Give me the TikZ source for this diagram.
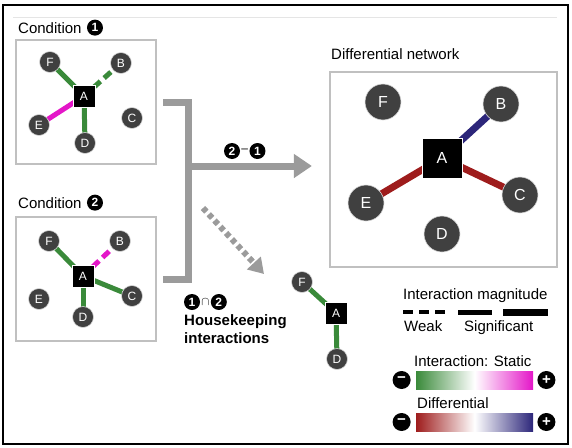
\documentclass[tikz,border=0pt]{standalone}
\usepackage{fontspec}
\setmainfont{Liberation Sans}
\usetikzlibrary{positioning,arrows.meta,backgrounds}

\definecolor{netgreen}{RGB}{58,138,58}
\definecolor{netmagenta}{RGB}{228,22,200}
\definecolor{netred}{RGB}{158,28,28}
\definecolor{netblue}{RGB}{44,38,122}
\definecolor{nodegray}{RGB}{64,64,64}
\definecolor{boxgray}{RGB}{192,192,192}
\definecolor{brgray}{RGB}{155,155,155}

\tikzset{
  gene/.style={circle, fill=nodegray, draw=black!15, line width=0.6pt, text=white,
    inner sep=0pt, minimum size=21pt, font=\fontsize{12}{12}\selectfont},
  biggene/.style={gene, minimum size=36pt, font=\fontsize{16}{16}\selectfont},
  hub/.style={rectangle, fill=black, draw=white, line width=0.6pt, text=white,
    inner sep=0pt, minimum size=22pt, font=\fontsize{12}{12}\selectfont},
  bighub/.style={hub, minimum size=40pt, font=\fontsize{16}{16}\selectfont},
  netbox/.style={draw=boxgray, line width=2.2pt, inner sep=0pt},
  lbl/.style={inner sep=0pt, font=\fontsize{15}{18}\selectfont},
  cnum/.style={circle, fill=black, text=white, inner sep=0pt, minimum size=16pt,
    font=\fontsize{12}{12}\selectfont\bfseries},
  sign/.style={circle, fill=black, text=white, inner sep=0pt, minimum size=18pt,
    font=\fontsize{15}{15}\selectfont\bfseries},
  link/.style={line width=5pt},
  weaklink/.style={link, dash pattern=on 22pt off 5pt on 9pt off 5pt on 40pt},
  difflink/.style={line width=7pt},
  bracket/.style={brgray, line width=7pt},
  flow/.style={brgray, line width=7pt, -{Triangle[length=18pt,width=23pt]}},
  hkflow/.style={brgray, line width=6pt, dash pattern=on 5pt off 3.5pt,
    -{Triangle[length=15pt,width=18pt]}},
  colorbar/.style={minimum width=117pt, minimum height=18pt, inner sep=0pt},
}

\begin{document}
\begin{tikzpicture}[x=1pt,y=-1pt]
    \useasboundingbox (0,0) rectangle (572,447);

    % frame
    \draw[line width=1.5pt] (3,5) rectangle (568,444);
    \draw[black!10] (13,17) -- (557,17);

    % ---------- condition 1

    \node[lbl, anchor=base west] (cond1) at (18,33) {Condition};
    \node[cnum, right=5pt of cond1] (cond1N) {1};
    \node[netbox, minimum width=140pt, minimum height=124pt] (box1) at (86,102) {};

    \node[hub] (A1) at (84,96) {A};
    \node[gene] (F1) at (50,62) {F};
    \node[gene] (B1) at (121,63) {B};
    \node[gene] (C1) at (132,118) {C};
    \node[gene] (D1) at (85,143) {D};
    \node[gene] (E1) at (39,125) {E};

    \begin{scope}[on background layer]
    \draw[link, netgreen] (A1.center) -- (F1.center);
    \draw[weaklink, netgreen] (A1.center) -- (B1.center);
    \draw[link, netgreen] (A1.center) -- (D1.center);
    \draw[link, netmagenta] (A1.center) -- (E1.center);
    \end{scope}

    % ---------- condition 2

    \node[lbl, anchor=base west] (cond2) at (18,208) {Condition};
    \node[cnum, right=5pt of cond2] (cond2N) {2};
    \node[netbox, minimum width=140pt, minimum height=124pt] (box2) at (86,279) {};

    \node[hub] (A2) at (83,276) {A};
    \node[gene] (F2) at (49,241) {F};
    \node[gene] (B2) at (120,241) {B};
    \node[gene] (C2) at (132,296) {C};
    \node[gene] (D2) at (83,317) {D};
    \node[gene] (E2) at (39,299) {E};

    \begin{scope}[on background layer]
    \draw[link, netgreen] (A2.center) -- (F2.center);
    \draw[weaklink, netmagenta] (A2.center) -- (B2.center);
    \draw[link, netgreen] (A2.center) -- (C2.center);
    \draw[link, netgreen] (A2.center) -- (D2.center);
    \end{scope}

    % ---------- differential network

    \node[lbl, anchor=base west] (diffL) at (331,59) {Differential network};
    \node[netbox, minimum width=227pt, minimum height=195pt] (diffbox) at (443.5,169.5) {};

    \node[bighub] (A3) at (442,158) {A};
    \node[biggene] (F3) at (383,102) {F};
    \node[biggene] (B3) at (501,104) {B};
    \node[biggene] (C3) at (520,195) {C};
    \node[biggene] (D3) at (442,234) {D};
    \node[biggene] (E3) at (366,203) {E};

    \begin{scope}[on background layer]
    \draw[difflink, netblue] (A3.center) -- (B3.center);
    \draw[difflink, netred] (A3.center) -- (C3.center);
    \draw[difflink, netred] (A3.center) -- (E3.center);
    \end{scope}

    % ---------- bracket and arrows

    \coordinate (joint) at (188,166);
    \draw[bracket] ([xshift=6pt]box1.east) -- (box1.east -| joint) -- (box2.east -| joint)
        -- ([xshift=6pt]box2.east);
    \draw[flow, shorten >=17pt] (joint) -- (joint -| diffbox.west);
    \node[cnum] (diffN2) at (232,151) {2};
    \node[right=1pt of diffN2, inner sep=0pt, font=\fontsize{12}{12}\selectfont] (minus) {--};
    \node[cnum, right=1pt of minus] (diffN1) {1};

    \coordinate (hkstart) at (203,208);
    \coordinate (hkend) at (264,274);
    \draw[hkflow] (hkstart) -- (hkend);

    % ---------- housekeeping

    \node[cnum] (hkN1) at (192,302) {1};
    \node[right=1pt of hkN1, inner sep=0pt, font=\fontsize{13}{13}\selectfont] (cap) {$\cap$};
    \node[cnum, right=1pt of cap] (hkN2) {2};
    \node[anchor=west, inner sep=0pt, font=\fontsize{15}{18}\selectfont] (hk) at (184,330.4) {
    \begin{tabular}{@{}l@{}}
    \textbf{Housekeeping}\\
    \textbf{interactions}
    \end{tabular}
    };

    \node[hub] (A4) at (336,313) {A};
    \node[gene] (F4) at (302,282) {F};
    \node[gene] (D4) at (337,359) {D};

    \begin{scope}[on background layer]
    \draw[link, netgreen] (A4.center) -- (F4.center);
    \draw[link, netgreen] (A4.center) -- (D4.center);
    \end{scope}

    % ---------- legend

    \node[lbl, anchor=base west] (magL) at (403,299) {Interaction magnitude};
    \draw[line width=3.5pt, dash pattern=on 10pt off 6pt] (403,312) -- (445,312);
    \draw[line width=5pt] (458,312) -- (492,312);
    \draw[line width=7pt] (503,312) -- (548,312);
    \node[lbl, anchor=base west] (weakL) at (404,331) {Weak};
    \node[lbl, anchor=base west] (signL) at (464,331) {Significant};

    \node[lbl, anchor=base west] (staticL) at (414,366) {Interaction: Static};
    \node[colorbar, left color=netgreen, right color=netmagenta, middle color=white]
        (static) at (474.5,380) {};
    \node[sign, left=5pt of static] (staticM) {−};
    \node[sign, right=4pt of static] (staticP) {+};

    \node[lbl, anchor=base west] (diffbarL) at (417,408) {Differential};
    \node[colorbar, left color=netred, right color=netblue, middle color=white]
        (diffbar) at (474.5,422) {};
    \node[sign, left=5pt of diffbar] (diffbarM) {−};
    \node[sign, right=4pt of diffbar] (diffbarP) {+};

\end{tikzpicture}
\end{document}
